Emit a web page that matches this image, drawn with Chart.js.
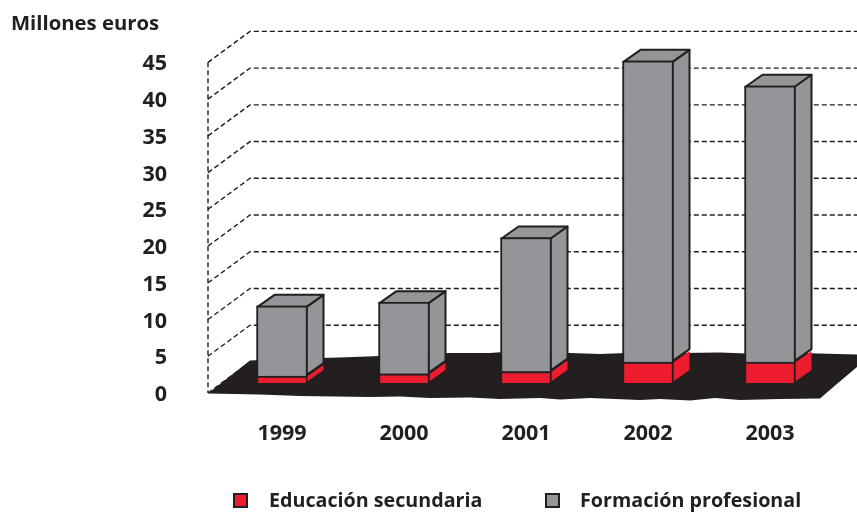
<!DOCTYPE html>
<html><head><meta charset="utf-8">
<style>html,body{margin:0;padding:0;background:#fff}#w{width:857px;height:517px}</style>
<script src="https://cdn.jsdelivr.net/npm/chart.js@4"></script></head>
<body><div id="w"><canvas id="c" width="857" height="517"></canvas></div>
<script>
const categories = ['1999','2000','2001','2002','2003'];
const educacionSecundaria = [0.95,1.25,1.55,2.85,2.85];
const formacionProfesional = [9.55,9.75,18.25,41.0,37.6];
const seriesNames = ['Educación secundaria','Formación profesional'];
const axisTitle = 'Millones euros';

const INK='#231f20', RED='#ed1c2e', GRAY='#939598';
const FONT='"Open Sans", sans-serif';
const WALL={dx:42,dy:-31,left:-13};
const BAR={dx:17,dy:-12,lift:-10};
const floorOutline=[[208,393.5],[250,360.5],[300,358.5],[340,357.5],[380,356],[420,354.5],[450,353],[490,353],[510,351.5],[540,354.5],[570,353],[600,354],[640,352.5],[680,353],[720,352.5],[760,354],[800,353],[857,354.5],[857,367],[838,383],[820,398.5],[780,399],[740,400],[715,398],[690,400.5],[660,399],[640,400],[590,398],[560,399.5],[540,398],[500,399],[470,397.5],[430,398],[400,396.5],[370,397],[300,396],[260,394.5]];

const scene={
  id:'scene',
  afterLayout(chart){
    const s=chart.scales.y;
    if(s.__shifted)return;
    s.__shifted=true;
    const orig=s.getLabelItems.bind(s);
    s.getLabelItems=a=>orig(a).map(i=>({...i,textOffset:i.textOffset+2}));
  },
  beforeDatasetsDraw(chart){
    const {ctx,scales:{y},chartArea:a}=chart;
    const x0=a.left+WALL.left;
    ctx.save();
    ctx.strokeStyle=INK;ctx.lineWidth=1.4;ctx.setLineDash([5,3]);
    y.ticks.forEach(t=>{
      const p=y.getPixelForValue(t.value);
      ctx.beginPath();ctx.moveTo(x0,p);ctx.lineTo(x0+WALL.dx,p+WALL.dy);ctx.lineTo(chart.width,p+WALL.dy);ctx.stroke();
    });
    ctx.beginPath();ctx.moveTo(x0,y.getPixelForValue(y.max));ctx.lineTo(x0,y.getPixelForValue(0));ctx.stroke();
    ctx.setLineDash([]);
    ctx.fillStyle=INK;ctx.beginPath();
    floorOutline.forEach(([px,py],i)=>i?ctx.lineTo(px,py):ctx.moveTo(px,py));
    ctx.closePath();ctx.fill();
    ctx.restore();
    ctx.save();
    ctx.translate(0,BAR.lift);
    ctx.lineJoin='round';ctx.strokeStyle=INK;ctx.lineWidth=2;
    chart.data.datasets.forEach((ds,di)=>{
      chart.getDatasetMeta(di).data.forEach(b=>{
        const r=b.x+b.width/2-1,l=b.x-b.width/2+1,t=b.y+1,bt=b.base-1;
        ctx.fillStyle=ds.backgroundColor;
        ctx.beginPath();ctx.moveTo(r,t);ctx.lineTo(r+BAR.dx,t+BAR.dy);ctx.lineTo(r+BAR.dx,bt+BAR.dy);ctx.lineTo(r,bt);ctx.closePath();ctx.fill();
        if(di===1)ctx.stroke();
        if(di===1){
          ctx.beginPath();ctx.moveTo(l,t);ctx.lineTo(l+BAR.dx,t+BAR.dy);ctx.lineTo(r+BAR.dx,t+BAR.dy);ctx.lineTo(r,t);ctx.closePath();ctx.fill();ctx.stroke();
        }
      });
    });
  },
  afterDatasetsDraw(chart){
    chart.ctx.restore();
    const ctx=chart.ctx;
    ctx.save();
    ctx.font='bold 19.7px '+FONT;ctx.textBaseline='middle';ctx.textAlign='left';
    const spots=[[233,269],[545,580]];
    chart.data.datasets.forEach((ds,i)=>{
      const [bx,tx]=spots[i];
      ctx.fillStyle=ds.backgroundColor;ctx.strokeStyle=INK;ctx.lineWidth=2;
      ctx.fillRect(bx+1,494,13,13);ctx.strokeRect(bx+1,494,13,13);
      ctx.fillStyle=INK;ctx.fillText(ds.label,tx,501);
    });
    ctx.restore();
  }
};

new Chart(document.getElementById('c'),{
  type:'bar',
  data:{labels:categories,datasets:[
    {label:seriesNames[0],data:educacionSecundaria,backgroundColor:RED,borderColor:INK,borderWidth:2,barThickness:51,clip:false},
    {label:seriesNames[1],data:formacionProfesional,backgroundColor:GRAY,borderColor:INK,borderWidth:2,barThickness:51,clip:false}
  ]},
  plugins:[scene],
  options:{
    responsive:false,animation:false,
    layout:{padding:{left:11,right:26,top:0,bottom:0}},
    plugins:{
      legend:{display:false},tooltip:{enabled:false},
      title:{display:true,text:axisTitle,align:'start',color:INK,font:{family:FONT,size:20.3,weight:'bold',lineHeight:1.2},padding:{top:12,bottom:26}}
    },
    scales:{
      x:{stacked:true,grid:{display:false,drawTicks:false},border:{display:false},
        ticks:{color:INK,padding:28,maxRotation:0,font:{family:FONT,size:21.5,weight:'bold'}},
        afterFit(s){s.height=124;}},
      y:{stacked:true,min:0,max:45,grid:{display:false,drawTicks:false},border:{display:false},
        ticks:{stepSize:5,color:INK,padding:54,font:{family:FONT,size:21.5,weight:'bold'}},
        afterFit(s){s.width=210;s.paddingTop=0;s.paddingBottom=0;}}
    }
  }
});
</script></body></html>
